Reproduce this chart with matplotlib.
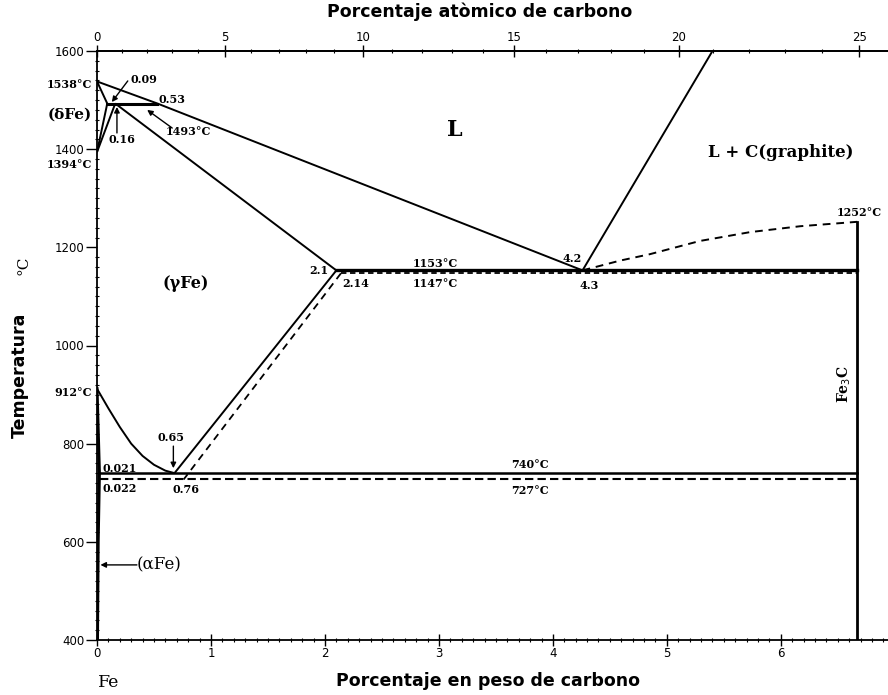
import matplotlib
matplotlib.use("Agg")
import matplotlib.pyplot as plt
from matplotlib.ticker import MultipleLocator
import numpy as np

# Fe-C diagram, wt% C vs temperature (C)
liq_x = [0, 0.53, 4.26]
liq_T = [1538, 1493, 1153]
delta_sol_x = [0, 0.09]
delta_sol_T = [1538, 1493]
perit_x = [0.09, 0.53]
perit_T = [1493, 1493]
delta_solvus_x = [0, 0.09]
delta_solvus_T = [1394, 1493]
gamma_start_x = [0, 0.16]
gamma_start_T = [1394, 1493]
gamma_sol_x = [0.16, 2.10]
gamma_sol_T = [1493, 1153]

eut_gr_x = [2.10, 6.67]
eut_gr_T = [1153, 1153]
eut_cm_x = [2.14, 6.67]
eut_cm_T = [1147, 1147]

acm_gr_x = [2.10, 0.68]
acm_gr_T = [1153, 740]
acm_cm_x = [2.14, 0.76]
acm_cm_T = [1147, 727]

a3_x = [0, 0.1, 0.2, 0.3, 0.4, 0.5, 0.6, 0.68]
a3_T = [912, 872, 834, 800, 775, 757, 745, 740]

eutd_gr_x = [0.021, 6.67]
eutd_gr_T = [740, 740]
eutd_cm_x = [0.022, 6.67]
eutd_cm_T = [727, 727]

alpha_x = [0, 0.021, 0.010, 0.004]
alpha_T = [912, 740, 600, 400]

gr_liq_x = [4.26, 5.40]
gr_liq_T = [1153, 1600]
gr_sol_x = [4.26, 4.59, 4.85, 5.29, 5.73, 6.17, 6.67]
gr_sol_T = [1153, 1173, 1186, 1213, 1231, 1243, 1252]

fe3c_x = [6.67, 6.67]
fe3c_T = [400, 1252]

y_ticks = [400, 600, 800, 1000, 1200, 1400, 1600]
x_ticks = [0, 1, 2, 3, 4, 5, 6]
at_ticks = [0, 5, 10, 15, 20, 25]


def wt_to_at(w):
    w = np.asarray(w, dtype=float)
    c = w / 12.011
    fe = (100 - w) / 55.845
    return 100 * c / (c + fe)


def at_to_wt(a):
    a = np.asarray(a, dtype=float)
    c = 12.011 * a
    fe = 55.845 * (100 - a)
    return 100 * c / (c + fe)


fig = plt.figure(figsize=(8.88, 6.95), dpi=100)
ax = fig.add_axes([97 / 888, 55 / 695, 791 / 888, 589 / 695])
ax.set_xlim(0, 6.94)
ax.set_ylim(400, 1600)

k = dict(color="black", lw=1.4, solid_capstyle="butt")
ax.plot(liq_x, liq_T, **k)
ax.plot(delta_sol_x, delta_sol_T, **k)
ax.plot(perit_x, perit_T, color="black", lw=2.2)
ax.plot(delta_solvus_x, delta_solvus_T, **k)
ax.plot(gamma_start_x, gamma_start_T, **k)
ax.plot(gamma_sol_x, gamma_sol_T, **k)
ax.plot(eut_gr_x, eut_gr_T, color="black", lw=2.4)
ax.plot(eut_cm_x, eut_cm_T, color="black", lw=1.3, ls=(0, (3, 2)))
ax.plot(acm_gr_x, acm_gr_T, **k)
ax.plot(acm_cm_x, acm_cm_T, color="black", lw=1.3, ls=(0, (4, 3)))
ax.plot(a3_x, a3_T, **k)
ax.plot(eutd_gr_x, eutd_gr_T, color="black", lw=1.8)
ax.plot(eutd_cm_x, eutd_cm_T, color="black", lw=1.5, ls=(0, (4, 2)))
ax.plot(alpha_x, alpha_T, color="black", lw=2.2)
ax.plot(gr_liq_x, gr_liq_T, **k)
ax.plot(gr_sol_x, gr_sol_T, color="black", lw=1.4, ls=(0, (4, 3)))
ax.plot(fe3c_x, fe3c_T, color="black", lw=2.0)

# axes styling
ax.spines["right"].set_visible(False)
for s in ["left", "bottom", "top"]:
    ax.spines[s].set_linewidth(1.3)
ax.set_xticks(x_ticks)
ax.set_yticks(y_ticks)
ax.xaxis.set_minor_locator(MultipleLocator(0.1))
ax.yaxis.set_minor_locator(MultipleLocator(20))
ax.tick_params(axis="y", which="major", direction="out", length=8, width=1, labelsize=8.5, pad=1)
ax.tick_params(axis="x", which="major", direction="inout", length=8, width=1, labelsize=8.5, pad=1)
ax.tick_params(which="minor", direction="inout", length=3.5, width=0.8)
ax.tick_params(top=False, right=False, which="both")

top = ax.secondary_xaxis("top", functions=(wt_to_at, at_to_wt))
top.set_xticks(at_ticks)
top.xaxis.set_minor_locator(MultipleLocator(1))
top.tick_params(which="major", direction="inout", length=8, width=1, labelsize=8.5, pad=1)
top.tick_params(which="minor", direction="inout", length=3.5, width=0.8)
top.spines["top"].set_linewidth(1.3)

lbl = dict(fontsize=12.5, fontweight="bold", family="DejaVu Sans")
fig.text(480 / 888, 1 - 12 / 695, "Porcentaje atòmico de carbono", ha="center", va="center", **lbl)
fig.text(488 / 888, 1 - 681 / 695, "Porcentaje en peso de carbono", ha="center", va="center", **lbl)
fig.text(20 / 888, 1 - 375 / 695, "Temperatura", rotation=90, ha="center", va="center", **lbl)
fig.text(23 / 888, 1 - 265 / 695, "°C", rotation=90, ha="center", va="center",
         fontsize=11, family="DejaVu Serif")

num = dict(fontsize=8, fontweight="bold", family="DejaVu Serif", clip_on=False)
ser = dict(fontweight="bold", family="DejaVu Serif", clip_on=False)
arr = dict(arrowstyle="-|>", color="black", lw=1, mutation_scale=8, shrinkA=0, shrinkB=0)

ax.text(-0.044, 1531, "1538°C", ha="right", va="center", **num)
ax.text(-0.044, 1368, "1394°C", ha="right", va="center", **num)
ax.text(-0.044, 905, "912°C", ha="right", va="center", **num)
ax.text(-0.044, 1470, "(δFe)", ha="right", va="center", fontsize=11, **ser)

ax.annotate("", xy=(0.13, 1496), xytext=(0.27, 1539), arrowprops=arr)
ax.text(0.29, 1541, "0.09", ha="left", va="center", **num)
ax.text(0.54, 1502, "0.53", ha="left", va="center", **num)
ax.annotate("", xy=(0.175, 1486), xytext=(0.175, 1433), arrowprops=arr)
ax.text(0.10, 1419, "0.16", ha="left", va="center", **num)
ax.annotate("", xy=(0.44, 1480), xytext=(0.66, 1443), arrowprops=arr)
ax.text(0.60, 1435, "1493°C", ha="left", va="center", **num)

ax.text(3.14, 1439, "L", ha="center", va="center", fontsize=16, **ser)
ax.text(6.00, 1394, "L + C(graphite)", ha="center", va="center", fontsize=12, **ser)
ax.text(6.69, 1270, "1252°C", ha="center", va="center", **num)

ax.text(4.17, 1178, "4.2", ha="center", va="center", **num)
ax.text(4.32, 1123, "4.3", ha="center", va="center", **num)
ax.text(2.97, 1168, "1153°C", ha="center", va="center", **num)
ax.text(2.97, 1127, "1147°C", ha="center", va="center", **num)
ax.text(2.03, 1152, "2.1", ha="right", va="center", **num)
ax.text(2.15, 1127, "2.14", ha="left", va="center", **num)
ax.text(0.78, 1127, "(γFe)", ha="center", va="center", fontsize=11.5, **ser)

ax.annotate("", xy=(0.67, 750), xytext=(0.67, 795), arrowprops=arr)
ax.text(0.65, 812, "0.65", ha="center", va="center", **num)
ax.text(0.044, 750, "0.021", ha="left", va="center", **num)
ax.text(0.044, 708, "0.022", ha="left", va="center", **num)
ax.text(0.66, 706, "0.76", ha="left", va="center", **num)
ax.text(3.80, 757, "740°C", ha="center", va="center", **num)
ax.text(3.80, 704, "727°C", ha="center", va="center", **num)

ax.annotate("", xy=(0.03, 553), xytext=(0.35, 553), arrowprops=arr)
ax.text(0.35, 553, "(αFe)", ha="left", va="center", fontsize=12, family="DejaVu Serif", clip_on=False)
ax.text(6.56, 922, "Fe$_3$C", rotation=90, ha="center", va="center", fontsize=10, **ser)
ax.text(0.10, 313, "Fe", ha="center", va="center", fontsize=12.5, family="DejaVu Serif", clip_on=False)

fig.savefig("out.png", dpi=100)
